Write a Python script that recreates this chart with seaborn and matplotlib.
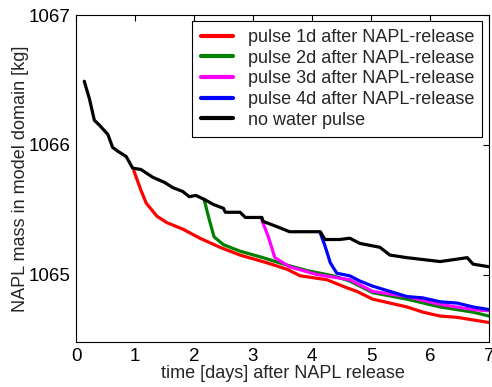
import matplotlib
matplotlib.use("Agg")
import matplotlib.pyplot as plt
import seaborn as sns
import pandas as pd

labels = ["pulse 1d after NAPL-release", "pulse 2d after NAPL-release",
          "pulse 3d after NAPL-release", "pulse 4d after NAPL-release",
          "no water pulse"]
colors = ["#ff0000", "#008000", "#ff00ff", "#0000ff", "#000000"]

x_none = [0.14, 0.23, 0.31, 0.40, 0.54, 0.62, 0.71, 0.85, 0.96, 1.10, 1.30, 1.50, 1.64,
          1.81, 1.92, 2.03, 2.17, 2.33, 2.50, 2.53, 2.78, 2.87, 3.15, 3.17, 3.40, 3.62,
          4.14, 4.22, 4.47, 4.64, 4.81, 5.15, 5.32, 5.61, 6.17, 6.63, 6.73, 7.0]
y_none = [1066.49, 1066.35, 1066.19, 1066.15, 1066.08, 1065.98, 1065.95, 1065.91,
          1065.82, 1065.81, 1065.75, 1065.71, 1065.67, 1065.64, 1065.60, 1065.61,
          1065.58, 1065.54, 1065.51, 1065.48, 1065.48, 1065.44, 1065.44, 1065.41,
          1065.37, 1065.33, 1065.33, 1065.27, 1065.27, 1065.28, 1065.24, 1065.21,
          1065.15, 1065.13, 1065.10, 1065.13, 1065.08, 1065.06]

x_p1 = [0.98, 1.10, 1.19, 1.37, 1.54, 1.81, 2.10, 2.44, 2.78, 3.24, 3.58, 3.80, 4.25,
        4.58, 4.76, 5.03, 5.32, 5.61, 5.88, 6.17, 6.46, 6.73, 7.0]
y_p1 = [1065.80, 1065.65, 1065.55, 1065.45, 1065.40, 1065.35, 1065.28, 1065.21,
        1065.15, 1065.09, 1065.04, 1064.99, 1064.96, 1064.90, 1064.87, 1064.81,
        1064.78, 1064.75, 1064.71, 1064.68, 1064.67, 1064.65, 1064.63]

x_p2 = [2.17, 2.26, 2.34, 2.50, 2.78, 3.17, 3.52, 3.92, 4.36, 4.64, 5.03, 5.61, 6.17,
        6.73, 7.0]
y_p2 = [1065.58, 1065.42, 1065.29, 1065.23, 1065.18, 1065.13, 1065.08, 1065.03,
        1064.99, 1064.95, 1064.86, 1064.81, 1064.75, 1064.71, 1064.68]

x_p3 = [3.15, 3.26, 3.37, 3.62, 4.08, 4.64, 5.03, 5.61, 6.17, 6.73, 7.0]
y_p3 = [1065.42, 1065.29, 1065.13, 1065.06, 1065.00, 1064.96, 1064.87, 1064.83,
        1064.77, 1064.73, 1064.72]

x_p4 = [4.14, 4.22, 4.31, 4.42, 4.64, 4.81, 5.03, 5.32, 5.61, 5.88, 6.17, 6.46, 6.73, 7.0]
y_p4 = [1065.32, 1065.22, 1065.09, 1065.01, 1064.99, 1064.95, 1064.91, 1064.87,
        1064.83, 1064.82, 1064.79, 1064.78, 1064.75, 1064.73]

xs = [x_p1, x_p2, x_p3, x_p4, x_none]
ys = [y_p1, y_p2, y_p3, y_p4, y_none]
rows = []
for lab, xv, yv in zip(labels, xs, ys):
    for a, b in zip(xv, yv):
        rows.append({"t": a, "m": b, "series": lab})
df = pd.DataFrame(rows)

sns.set_style("white")
plt.rcParams["font.family"] = ["Liberation Sans", "DejaVu Sans"]

fig = plt.figure(figsize=(4.92, 3.87), dpi=100)
ax = fig.add_axes([0.1545, 0.1163, 0.8395, 0.8447])
sns.lineplot(data=df, x="t", y="m", hue="series", hue_order=labels,
             palette=dict(zip(labels, colors)), estimator=None, sort=False,
             linewidth=2.3, ax=ax, legend=True)

ax.set_xlim(0, 7)
ax.set_ylim(1064.48, 1067)
ax.set_xticks(range(0, 8))
ax.set_yticks([1065, 1066, 1067])
ax.tick_params(direction="in", top=True, right=True, length=4, width=0.8,
               labelsize=13.5, pad=4, colors="black")
for s in ax.spines.values():
    s.set_visible(True)
    s.set_color("black")
    s.set_linewidth(0.8)
ax.set_xlabel("time [days] after NAPL release", fontsize=13, labelpad=0)
ax.set_ylabel("NAPL mass in model domain [kg]", fontsize=13, labelpad=0)

leg = ax.legend(loc="upper right", bbox_to_anchor=(0.983, 0.982), fontsize=13,
                frameon=True, fancybox=False, edgecolor="black", framealpha=1,
                labelspacing=0.2, handlelength=1.8, handletextpad=0.8,
                borderpad=0.45, borderaxespad=0)
leg.get_frame().set_linewidth(0.8)
for h in leg.get_lines():
    h.set_linewidth(3)

fig.savefig("out.png", dpi=100)
